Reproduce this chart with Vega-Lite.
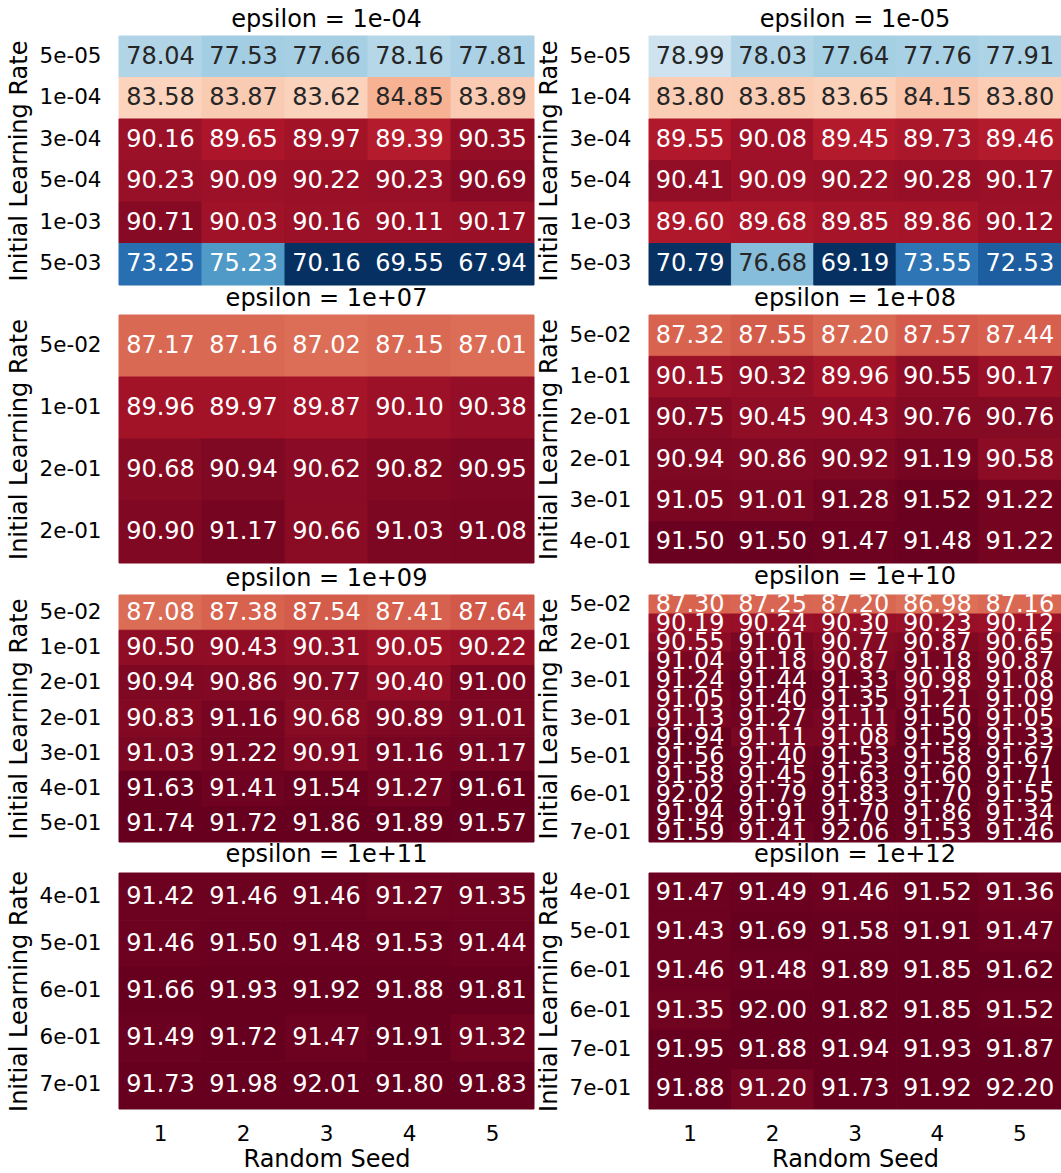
{
  "$schema": "https://vega.github.io/schema/vega-lite/v6.json",
  "padding": {"left": 6, "top": 7, "right": 0, "bottom": 0},
  "background": "white",
  "config": {
    "font": "DejaVu Sans",
    "view": {"stroke": null},
    "title": {"fontSize": 24, "fontWeight": "normal", "offset": 4, "color": "black"},
    "axis": {"labelFontSize": 21.5, "titleFontSize": 24, "titleFontWeight": "normal", "ticks": false, "domain": false, "labelColor": "black", "titleColor": "black", "grid": false},
    "axisY": {"labelPadding": 18, "minExtent": 80, "maxExtent": 80, "titlePadding": 8, "labelAngle": 0},
    "axisX": {"labelPadding": 14, "titlePadding": 3, "labelAngle": 0}
  },
  "datasets": {
    "p1": [
      {"k": "5e-05_0", "s": 1, "v": 78.04}, {"k": "5e-05_0", "s": 2, "v": 77.53}, {"k": "5e-05_0", "s": 3, "v": 77.66}, {"k": "5e-05_0", "s": 4, "v": 78.16}, {"k": "5e-05_0", "s": 5, "v": 77.81},
      {"k": "1e-04_1", "s": 1, "v": 83.58}, {"k": "1e-04_1", "s": 2, "v": 83.87}, {"k": "1e-04_1", "s": 3, "v": 83.62}, {"k": "1e-04_1", "s": 4, "v": 84.85}, {"k": "1e-04_1", "s": 5, "v": 83.89},
      {"k": "3e-04_2", "s": 1, "v": 90.16}, {"k": "3e-04_2", "s": 2, "v": 89.65}, {"k": "3e-04_2", "s": 3, "v": 89.97}, {"k": "3e-04_2", "s": 4, "v": 89.39}, {"k": "3e-04_2", "s": 5, "v": 90.35},
      {"k": "5e-04_3", "s": 1, "v": 90.23}, {"k": "5e-04_3", "s": 2, "v": 90.09}, {"k": "5e-04_3", "s": 3, "v": 90.22}, {"k": "5e-04_3", "s": 4, "v": 90.23}, {"k": "5e-04_3", "s": 5, "v": 90.69},
      {"k": "1e-03_4", "s": 1, "v": 90.71}, {"k": "1e-03_4", "s": 2, "v": 90.03}, {"k": "1e-03_4", "s": 3, "v": 90.16}, {"k": "1e-03_4", "s": 4, "v": 90.11}, {"k": "1e-03_4", "s": 5, "v": 90.17},
      {"k": "5e-03_5", "s": 1, "v": 73.25}, {"k": "5e-03_5", "s": 2, "v": 75.23}, {"k": "5e-03_5", "s": 3, "v": 70.16}, {"k": "5e-03_5", "s": 4, "v": 69.55}, {"k": "5e-03_5", "s": 5, "v": 67.94}
    ],
    "p2": [
      {"k": "5e-05_0", "s": 1, "v": 78.99}, {"k": "5e-05_0", "s": 2, "v": 78.03}, {"k": "5e-05_0", "s": 3, "v": 77.64}, {"k": "5e-05_0", "s": 4, "v": 77.76}, {"k": "5e-05_0", "s": 5, "v": 77.91},
      {"k": "1e-04_1", "s": 1, "v": 83.80}, {"k": "1e-04_1", "s": 2, "v": 83.85}, {"k": "1e-04_1", "s": 3, "v": 83.65}, {"k": "1e-04_1", "s": 4, "v": 84.15}, {"k": "1e-04_1", "s": 5, "v": 83.80},
      {"k": "3e-04_2", "s": 1, "v": 89.55}, {"k": "3e-04_2", "s": 2, "v": 90.08}, {"k": "3e-04_2", "s": 3, "v": 89.45}, {"k": "3e-04_2", "s": 4, "v": 89.73}, {"k": "3e-04_2", "s": 5, "v": 89.46},
      {"k": "5e-04_3", "s": 1, "v": 90.41}, {"k": "5e-04_3", "s": 2, "v": 90.09}, {"k": "5e-04_3", "s": 3, "v": 90.22}, {"k": "5e-04_3", "s": 4, "v": 90.28}, {"k": "5e-04_3", "s": 5, "v": 90.17},
      {"k": "1e-03_4", "s": 1, "v": 89.60}, {"k": "1e-03_4", "s": 2, "v": 89.68}, {"k": "1e-03_4", "s": 3, "v": 89.85}, {"k": "1e-03_4", "s": 4, "v": 89.86}, {"k": "1e-03_4", "s": 5, "v": 90.12},
      {"k": "5e-03_5", "s": 1, "v": 70.79}, {"k": "5e-03_5", "s": 2, "v": 76.68}, {"k": "5e-03_5", "s": 3, "v": 69.19}, {"k": "5e-03_5", "s": 4, "v": 73.55}, {"k": "5e-03_5", "s": 5, "v": 72.53}
    ],
    "p3": [
      {"k": "5e-02_0", "s": 1, "v": 87.17}, {"k": "5e-02_0", "s": 2, "v": 87.16}, {"k": "5e-02_0", "s": 3, "v": 87.02}, {"k": "5e-02_0", "s": 4, "v": 87.15}, {"k": "5e-02_0", "s": 5, "v": 87.01},
      {"k": "1e-01_1", "s": 1, "v": 89.96}, {"k": "1e-01_1", "s": 2, "v": 89.97}, {"k": "1e-01_1", "s": 3, "v": 89.87}, {"k": "1e-01_1", "s": 4, "v": 90.10}, {"k": "1e-01_1", "s": 5, "v": 90.38},
      {"k": "2e-01_2", "s": 1, "v": 90.68}, {"k": "2e-01_2", "s": 2, "v": 90.94}, {"k": "2e-01_2", "s": 3, "v": 90.62}, {"k": "2e-01_2", "s": 4, "v": 90.82}, {"k": "2e-01_2", "s": 5, "v": 90.95},
      {"k": "2e-01_3", "s": 1, "v": 90.90}, {"k": "2e-01_3", "s": 2, "v": 91.17}, {"k": "2e-01_3", "s": 3, "v": 90.66}, {"k": "2e-01_3", "s": 4, "v": 91.03}, {"k": "2e-01_3", "s": 5, "v": 91.08}
    ],
    "p4": [
      {"k": "5e-02_0", "s": 1, "v": 87.32}, {"k": "5e-02_0", "s": 2, "v": 87.55}, {"k": "5e-02_0", "s": 3, "v": 87.20}, {"k": "5e-02_0", "s": 4, "v": 87.57}, {"k": "5e-02_0", "s": 5, "v": 87.44},
      {"k": "1e-01_1", "s": 1, "v": 90.15}, {"k": "1e-01_1", "s": 2, "v": 90.32}, {"k": "1e-01_1", "s": 3, "v": 89.96}, {"k": "1e-01_1", "s": 4, "v": 90.55}, {"k": "1e-01_1", "s": 5, "v": 90.17},
      {"k": "2e-01_2", "s": 1, "v": 90.75}, {"k": "2e-01_2", "s": 2, "v": 90.45}, {"k": "2e-01_2", "s": 3, "v": 90.43}, {"k": "2e-01_2", "s": 4, "v": 90.76}, {"k": "2e-01_2", "s": 5, "v": 90.76},
      {"k": "2e-01_3", "s": 1, "v": 90.94}, {"k": "2e-01_3", "s": 2, "v": 90.86}, {"k": "2e-01_3", "s": 3, "v": 90.92}, {"k": "2e-01_3", "s": 4, "v": 91.19}, {"k": "2e-01_3", "s": 5, "v": 90.58},
      {"k": "3e-01_4", "s": 1, "v": 91.05}, {"k": "3e-01_4", "s": 2, "v": 91.01}, {"k": "3e-01_4", "s": 3, "v": 91.28}, {"k": "3e-01_4", "s": 4, "v": 91.52}, {"k": "3e-01_4", "s": 5, "v": 91.22},
      {"k": "4e-01_5", "s": 1, "v": 91.50}, {"k": "4e-01_5", "s": 2, "v": 91.50}, {"k": "4e-01_5", "s": 3, "v": 91.47}, {"k": "4e-01_5", "s": 4, "v": 91.48}, {"k": "4e-01_5", "s": 5, "v": 91.22}
    ],
    "p5": [
      {"k": "5e-02_0", "s": 1, "v": 87.08}, {"k": "5e-02_0", "s": 2, "v": 87.38}, {"k": "5e-02_0", "s": 3, "v": 87.54}, {"k": "5e-02_0", "s": 4, "v": 87.41}, {"k": "5e-02_0", "s": 5, "v": 87.64},
      {"k": "1e-01_1", "s": 1, "v": 90.50}, {"k": "1e-01_1", "s": 2, "v": 90.43}, {"k": "1e-01_1", "s": 3, "v": 90.31}, {"k": "1e-01_1", "s": 4, "v": 90.05}, {"k": "1e-01_1", "s": 5, "v": 90.22},
      {"k": "2e-01_2", "s": 1, "v": 90.94}, {"k": "2e-01_2", "s": 2, "v": 90.86}, {"k": "2e-01_2", "s": 3, "v": 90.77}, {"k": "2e-01_2", "s": 4, "v": 90.40}, {"k": "2e-01_2", "s": 5, "v": 91.00},
      {"k": "2e-01_3", "s": 1, "v": 90.83}, {"k": "2e-01_3", "s": 2, "v": 91.16}, {"k": "2e-01_3", "s": 3, "v": 90.68}, {"k": "2e-01_3", "s": 4, "v": 90.89}, {"k": "2e-01_3", "s": 5, "v": 91.01},
      {"k": "3e-01_4", "s": 1, "v": 91.03}, {"k": "3e-01_4", "s": 2, "v": 91.22}, {"k": "3e-01_4", "s": 3, "v": 90.91}, {"k": "3e-01_4", "s": 4, "v": 91.16}, {"k": "3e-01_4", "s": 5, "v": 91.17},
      {"k": "4e-01_5", "s": 1, "v": 91.63}, {"k": "4e-01_5", "s": 2, "v": 91.41}, {"k": "4e-01_5", "s": 3, "v": 91.54}, {"k": "4e-01_5", "s": 4, "v": 91.27}, {"k": "4e-01_5", "s": 5, "v": 91.61},
      {"k": "5e-01_6", "s": 1, "v": 91.74}, {"k": "5e-01_6", "s": 2, "v": 91.72}, {"k": "5e-01_6", "s": 3, "v": 91.86}, {"k": "5e-01_6", "s": 4, "v": 91.89}, {"k": "5e-01_6", "s": 5, "v": 91.57}
    ],
    "p6": [
      {"k": "5e-02_0", "s": 1, "v": 87.30}, {"k": "5e-02_0", "s": 2, "v": 87.25}, {"k": "5e-02_0", "s": 3, "v": 87.20}, {"k": "5e-02_0", "s": 4, "v": 86.98}, {"k": "5e-02_0", "s": 5, "v": 87.16},
      {"k": "1e-01_1", "s": 1, "v": 90.19}, {"k": "1e-01_1", "s": 2, "v": 90.24}, {"k": "1e-01_1", "s": 3, "v": 90.30}, {"k": "1e-01_1", "s": 4, "v": 90.23}, {"k": "1e-01_1", "s": 5, "v": 90.12},
      {"k": "2e-01_2", "s": 1, "v": 90.55}, {"k": "2e-01_2", "s": 2, "v": 91.01}, {"k": "2e-01_2", "s": 3, "v": 90.77}, {"k": "2e-01_2", "s": 4, "v": 90.87}, {"k": "2e-01_2", "s": 5, "v": 90.65},
      {"k": "2e-01_3", "s": 1, "v": 91.04}, {"k": "2e-01_3", "s": 2, "v": 91.18}, {"k": "2e-01_3", "s": 3, "v": 90.87}, {"k": "2e-01_3", "s": 4, "v": 91.18}, {"k": "2e-01_3", "s": 5, "v": 90.87},
      {"k": "3e-01_4", "s": 1, "v": 91.24}, {"k": "3e-01_4", "s": 2, "v": 91.44}, {"k": "3e-01_4", "s": 3, "v": 91.33}, {"k": "3e-01_4", "s": 4, "v": 90.98}, {"k": "3e-01_4", "s": 5, "v": 91.08},
      {"k": "3e-01_5", "s": 1, "v": 91.05}, {"k": "3e-01_5", "s": 2, "v": 91.40}, {"k": "3e-01_5", "s": 3, "v": 91.35}, {"k": "3e-01_5", "s": 4, "v": 91.21}, {"k": "3e-01_5", "s": 5, "v": 91.09},
      {"k": "3e-01_6", "s": 1, "v": 91.13}, {"k": "3e-01_6", "s": 2, "v": 91.27}, {"k": "3e-01_6", "s": 3, "v": 91.11}, {"k": "3e-01_6", "s": 4, "v": 91.50}, {"k": "3e-01_6", "s": 5, "v": 91.05},
      {"k": "4e-01_7", "s": 1, "v": 91.94}, {"k": "4e-01_7", "s": 2, "v": 91.11}, {"k": "4e-01_7", "s": 3, "v": 91.08}, {"k": "4e-01_7", "s": 4, "v": 91.59}, {"k": "4e-01_7", "s": 5, "v": 91.33},
      {"k": "5e-01_8", "s": 1, "v": 91.56}, {"k": "5e-01_8", "s": 2, "v": 91.40}, {"k": "5e-01_8", "s": 3, "v": 91.53}, {"k": "5e-01_8", "s": 4, "v": 91.58}, {"k": "5e-01_8", "s": 5, "v": 91.67},
      {"k": "5e-01_9", "s": 1, "v": 91.58}, {"k": "5e-01_9", "s": 2, "v": 91.45}, {"k": "5e-01_9", "s": 3, "v": 91.63}, {"k": "5e-01_9", "s": 4, "v": 91.60}, {"k": "5e-01_9", "s": 5, "v": 91.71},
      {"k": "6e-01_10", "s": 1, "v": 92.02}, {"k": "6e-01_10", "s": 2, "v": 91.79}, {"k": "6e-01_10", "s": 3, "v": 91.83}, {"k": "6e-01_10", "s": 4, "v": 91.70}, {"k": "6e-01_10", "s": 5, "v": 91.55},
      {"k": "6e-01_11", "s": 1, "v": 91.94}, {"k": "6e-01_11", "s": 2, "v": 91.91}, {"k": "6e-01_11", "s": 3, "v": 91.70}, {"k": "6e-01_11", "s": 4, "v": 91.86}, {"k": "6e-01_11", "s": 5, "v": 91.34},
      {"k": "7e-01_12", "s": 1, "v": 91.59}, {"k": "7e-01_12", "s": 2, "v": 91.41}, {"k": "7e-01_12", "s": 3, "v": 92.06}, {"k": "7e-01_12", "s": 4, "v": 91.53}, {"k": "7e-01_12", "s": 5, "v": 91.46}
    ],
    "p7": [
      {"k": "4e-01_0", "s": 1, "v": 91.42}, {"k": "4e-01_0", "s": 2, "v": 91.46}, {"k": "4e-01_0", "s": 3, "v": 91.46}, {"k": "4e-01_0", "s": 4, "v": 91.27}, {"k": "4e-01_0", "s": 5, "v": 91.35},
      {"k": "5e-01_1", "s": 1, "v": 91.46}, {"k": "5e-01_1", "s": 2, "v": 91.50}, {"k": "5e-01_1", "s": 3, "v": 91.48}, {"k": "5e-01_1", "s": 4, "v": 91.53}, {"k": "5e-01_1", "s": 5, "v": 91.44},
      {"k": "6e-01_2", "s": 1, "v": 91.66}, {"k": "6e-01_2", "s": 2, "v": 91.93}, {"k": "6e-01_2", "s": 3, "v": 91.92}, {"k": "6e-01_2", "s": 4, "v": 91.88}, {"k": "6e-01_2", "s": 5, "v": 91.81},
      {"k": "6e-01_3", "s": 1, "v": 91.49}, {"k": "6e-01_3", "s": 2, "v": 91.72}, {"k": "6e-01_3", "s": 3, "v": 91.47}, {"k": "6e-01_3", "s": 4, "v": 91.91}, {"k": "6e-01_3", "s": 5, "v": 91.32},
      {"k": "7e-01_4", "s": 1, "v": 91.73}, {"k": "7e-01_4", "s": 2, "v": 91.98}, {"k": "7e-01_4", "s": 3, "v": 92.01}, {"k": "7e-01_4", "s": 4, "v": 91.80}, {"k": "7e-01_4", "s": 5, "v": 91.83}
    ],
    "p8": [
      {"k": "4e-01_0", "s": 1, "v": 91.47}, {"k": "4e-01_0", "s": 2, "v": 91.49}, {"k": "4e-01_0", "s": 3, "v": 91.46}, {"k": "4e-01_0", "s": 4, "v": 91.52}, {"k": "4e-01_0", "s": 5, "v": 91.36},
      {"k": "5e-01_1", "s": 1, "v": 91.43}, {"k": "5e-01_1", "s": 2, "v": 91.69}, {"k": "5e-01_1", "s": 3, "v": 91.58}, {"k": "5e-01_1", "s": 4, "v": 91.91}, {"k": "5e-01_1", "s": 5, "v": 91.47},
      {"k": "6e-01_2", "s": 1, "v": 91.46}, {"k": "6e-01_2", "s": 2, "v": 91.48}, {"k": "6e-01_2", "s": 3, "v": 91.89}, {"k": "6e-01_2", "s": 4, "v": 91.85}, {"k": "6e-01_2", "s": 5, "v": 91.62},
      {"k": "6e-01_3", "s": 1, "v": 91.35}, {"k": "6e-01_3", "s": 2, "v": 92.00}, {"k": "6e-01_3", "s": 3, "v": 91.82}, {"k": "6e-01_3", "s": 4, "v": 91.85}, {"k": "6e-01_3", "s": 5, "v": 91.52},
      {"k": "7e-01_4", "s": 1, "v": 91.95}, {"k": "7e-01_4", "s": 2, "v": 91.88}, {"k": "7e-01_4", "s": 3, "v": 91.94}, {"k": "7e-01_4", "s": 4, "v": 91.93}, {"k": "7e-01_4", "s": 5, "v": 91.87},
      {"k": "7e-01_5", "s": 1, "v": 91.88}, {"k": "7e-01_5", "s": 2, "v": 91.20}, {"k": "7e-01_5", "s": 3, "v": 91.73}, {"k": "7e-01_5", "s": 4, "v": 91.92}, {"k": "7e-01_5", "s": 5, "v": 92.20}
    ]
  },
  "spacing": -3,
  "vconcat": [
    {
      "spacing": 0,
      "vconcat": [
        {
          "spacing": 1,
          "hconcat": [
            {
              "data": {"name": "p1"}, "title": "epsilon = 1e-04", "width": 415, "height": 249,
              "encoding": {
                "x": {"field": "s", "type": "ordinal", "axis": null, "scale": {"paddingInner": 0, "paddingOuter": 0}},
                "y": {"field": "k", "type": "ordinal", "sort": null, "scale": {"paddingInner": 0, "paddingOuter": 0}, "axis": {"title": "Initial Learning Rate", "labelExpr": "split(datum.value, '_')[0]"}}
              },
              "layer": [
                {"mark": {"type": "rect", "strokeWidth": 1}, "encoding": {
                  "color": {"field": "v", "type": "quantitative", "legend": null, "scale": {"domain": [70.75, 72.835, 74.92, 77.005, 79.09, 81.175, 83.26, 85.345, 87.43, 89.515, 91.6], "range": ["#053061", "#2166ac", "#4393c3", "#92c5de", "#d1e5f0", "#f7f7f7", "#fddbc7", "#f4a582", "#d6604d", "#b2182b", "#67001f"], "interpolate": "rgb", "clamp": true}},
                  "stroke": {"field": "v", "type": "quantitative", "legend": null, "scale": {"domain": [70.75, 72.835, 74.92, 77.005, 79.09, 81.175, 83.26, 85.345, 87.43, 89.515, 91.6], "range": ["#053061", "#2166ac", "#4393c3", "#92c5de", "#d1e5f0", "#f7f7f7", "#fddbc7", "#f4a582", "#d6604d", "#b2182b", "#67001f"], "interpolate": "rgb", "clamp": true}}}},
                {"mark": {"type": "text", "fontSize": 24, "baseline": "middle"}, "encoding": {"text": {"field": "v", "type": "quantitative", "format": ".2f"}, "color": {"condition": {"test": "datum.v > 76 && datum.v < 86", "value": "#262626"}, "value": "white"}}}
              ]
            },
            {
              "data": {"name": "p2"}, "title": "epsilon = 1e-05", "width": 412, "height": 249,
              "encoding": {
                "x": {"field": "s", "type": "ordinal", "axis": null, "scale": {"paddingInner": 0, "paddingOuter": 0}},
                "y": {"field": "k", "type": "ordinal", "sort": null, "scale": {"paddingInner": 0, "paddingOuter": 0}, "axis": {"title": "Initial Learning Rate", "labelExpr": "split(datum.value, '_')[0]"}}
              },
              "layer": [
                {"mark": {"type": "rect", "strokeWidth": 1}, "encoding": {"color": {"field": "v", "type": "quantitative", "legend": null}, "stroke": {"field": "v", "type": "quantitative", "legend": null}}},
                {"mark": {"type": "text", "fontSize": 24, "baseline": "middle"}, "encoding": {"text": {"field": "v", "type": "quantitative", "format": ".2f"}, "color": {"condition": {"test": "datum.v > 76 && datum.v < 86", "value": "#262626"}, "value": "white"}}}
              ]
            }
          ]
        },
        {
          "spacing": 1,
          "hconcat": [
            {
              "data": {"name": "p3"}, "title": "epsilon = 1e+07", "width": 415, "height": 248,
              "encoding": {
                "x": {"field": "s", "type": "ordinal", "axis": null, "scale": {"paddingInner": 0, "paddingOuter": 0}},
                "y": {"field": "k", "type": "ordinal", "sort": null, "scale": {"paddingInner": 0, "paddingOuter": 0}, "axis": {"title": "Initial Learning Rate", "labelExpr": "split(datum.value, '_')[0]"}}
              },
              "layer": [
                {"mark": {"type": "rect", "strokeWidth": 1}, "encoding": {"color": {"field": "v", "type": "quantitative", "legend": null}, "stroke": {"field": "v", "type": "quantitative", "legend": null}}},
                {"mark": {"type": "text", "fontSize": 24, "baseline": "middle"}, "encoding": {"text": {"field": "v", "type": "quantitative", "format": ".2f"}, "color": {"condition": {"test": "datum.v > 76 && datum.v < 86", "value": "#262626"}, "value": "white"}}}
              ]
            },
            {
              "data": {"name": "p4"}, "title": "epsilon = 1e+08", "width": 412, "height": 248,
              "encoding": {
                "x": {"field": "s", "type": "ordinal", "axis": null, "scale": {"paddingInner": 0, "paddingOuter": 0}},
                "y": {"field": "k", "type": "ordinal", "sort": null, "scale": {"paddingInner": 0, "paddingOuter": 0}, "axis": {"title": "Initial Learning Rate", "labelExpr": "split(datum.value, '_')[0]"}}
              },
              "layer": [
                {"mark": {"type": "rect", "strokeWidth": 1}, "encoding": {"color": {"field": "v", "type": "quantitative", "legend": null}, "stroke": {"field": "v", "type": "quantitative", "legend": null}}},
                {"mark": {"type": "text", "fontSize": 24, "baseline": "middle"}, "encoding": {"text": {"field": "v", "type": "quantitative", "format": ".2f"}, "color": {"condition": {"test": "datum.v > 76 && datum.v < 86", "value": "#262626"}, "value": "white"}}}
              ]
            }
          ]
        },
        {
          "spacing": 1,
          "hconcat": [
            {
              "data": {"name": "p5"}, "title": "epsilon = 1e+09", "width": 415, "height": 247,
              "encoding": {
                "x": {"field": "s", "type": "ordinal", "axis": null, "scale": {"paddingInner": 0, "paddingOuter": 0}},
                "y": {"field": "k", "type": "ordinal", "sort": null, "scale": {"paddingInner": 0, "paddingOuter": 0}, "axis": {"title": "Initial Learning Rate", "labelExpr": "split(datum.value, '_')[0]"}}
              },
              "layer": [
                {"mark": {"type": "rect", "strokeWidth": 1}, "encoding": {"color": {"field": "v", "type": "quantitative", "legend": null}, "stroke": {"field": "v", "type": "quantitative", "legend": null}}},
                {"mark": {"type": "text", "fontSize": 24, "baseline": "middle"}, "encoding": {"text": {"field": "v", "type": "quantitative", "format": ".2f"}, "color": {"condition": {"test": "datum.v > 76 && datum.v < 86", "value": "#262626"}, "value": "white"}}}
              ]
            },
            {
              "data": {"name": "p6"}, "title": "epsilon = 1e+10", "width": 412, "height": 247,
              "encoding": {
                "x": {"field": "s", "type": "ordinal", "axis": null, "scale": {"paddingInner": 0, "paddingOuter": 0}},
                "y": {"field": "k", "type": "ordinal", "sort": null, "scale": {"paddingInner": 0, "paddingOuter": 0}, "axis": {"title": "Initial Learning Rate", "labelExpr": "split(datum.value, '_')[0]", "values": ["5e-02_0", "2e-01_2", "3e-01_4", "3e-01_6", "5e-01_8", "6e-01_10", "7e-01_12"]}}
              },
              "layer": [
                {"mark": {"type": "rect", "strokeWidth": 1}, "encoding": {"color": {"field": "v", "type": "quantitative", "legend": null}, "stroke": {"field": "v", "type": "quantitative", "legend": null}}},
                {"mark": {"type": "text", "fontSize": 24, "baseline": "middle"}, "encoding": {"text": {"field": "v", "type": "quantitative", "format": ".2f"}, "color": {"condition": {"test": "datum.v > 76 && datum.v < 86", "value": "#262626"}, "value": "white"}}}
              ]
            }
          ]
        }
      ]
    },
    {
      "spacing": 1,
      "hconcat": [
        {
          "data": {"name": "p7"}, "title": "epsilon = 1e+11", "width": 415, "height": 236,
          "encoding": {
            "x": {"field": "s", "type": "ordinal", "scale": {"paddingInner": 0, "paddingOuter": 0}, "axis": {"title": "Random Seed"}},
            "y": {"field": "k", "type": "ordinal", "sort": null, "scale": {"paddingInner": 0, "paddingOuter": 0}, "axis": {"title": "Initial Learning Rate", "labelExpr": "split(datum.value, '_')[0]"}}
          },
          "layer": [
            {"mark": {"type": "rect", "strokeWidth": 1}, "encoding": {"color": {"field": "v", "type": "quantitative", "legend": null}, "stroke": {"field": "v", "type": "quantitative", "legend": null}}},
            {"mark": {"type": "text", "fontSize": 24, "baseline": "middle"}, "encoding": {"text": {"field": "v", "type": "quantitative", "format": ".2f"}, "color": {"condition": {"test": "datum.v > 76 && datum.v < 86", "value": "#262626"}, "value": "white"}}}
          ]
        },
        {
          "data": {"name": "p8"}, "title": "epsilon = 1e+12", "width": 412, "height": 236,
          "encoding": {
            "x": {"field": "s", "type": "ordinal", "scale": {"paddingInner": 0, "paddingOuter": 0}, "axis": {"title": "Random Seed"}},
            "y": {"field": "k", "type": "ordinal", "sort": null, "scale": {"paddingInner": 0, "paddingOuter": 0}, "axis": {"title": "Initial Learning Rate", "labelExpr": "split(datum.value, '_')[0]"}}
          },
          "layer": [
            {"mark": {"type": "rect", "strokeWidth": 1}, "encoding": {"color": {"field": "v", "type": "quantitative", "legend": null}, "stroke": {"field": "v", "type": "quantitative", "legend": null}}},
            {"mark": {"type": "text", "fontSize": 24, "baseline": "middle"}, "encoding": {"text": {"field": "v", "type": "quantitative", "format": ".2f"}, "color": {"condition": {"test": "datum.v > 76 && datum.v < 86", "value": "#262626"}, "value": "white"}}}
          ]
        }
      ]
    }
  ]
}
